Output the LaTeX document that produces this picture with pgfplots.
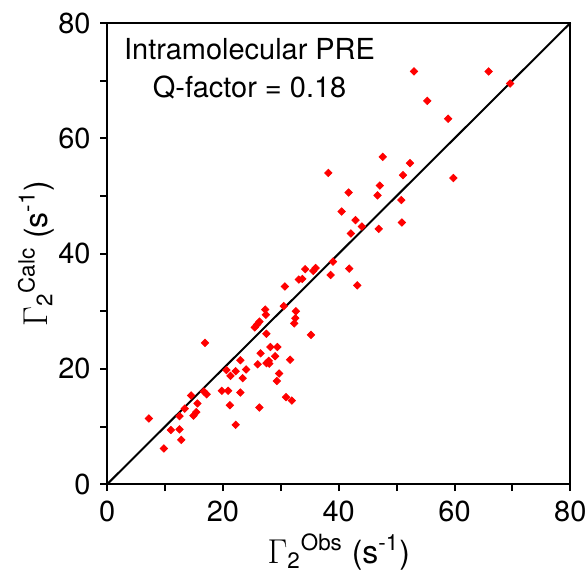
\documentclass[border=0pt]{standalone}
\usepackage{fontspec}
\setmainfont{TeX Gyre Heros}
\usepackage{pgfplots}
\pgfplotsset{compat=1.18}

\begin{document}
\fontsize{14}{17}\selectfont
\begin{tikzpicture}
\begin{axis}[
  scale only axis, width=232pt, height=231pt,
  xmin=0, xmax=80, ymin=0, ymax=80,
  axis line style={line width=1pt},
  xtick={0,20,...,80}, ytick={0,20,...,80},
  minor xtick={10,30,50,70}, minor ytick={10,30,50,70},
  tick align=outside, tick pos=left,
  major tick length=3.5pt, minor tick length=3.5pt,
  every tick/.style={line width=1pt, black},
  /pgf/number format/assume math mode=true,
  ticklabel style={font=\fontsize{14.5}{17}\selectfont},
  xticklabel style={inner xsep=0.8pt},
  yticklabel style={inner ysep=6.3pt},
  label style={font=\fontsize{16}{19}\selectfont},
  xlabel style={inner ysep=3.3pt, yshift=2pt},
  ylabel style={inner ysep=9pt, yshift=-11.7pt},
  xlabel={$\Gamma$\textsubscript{2}\textsuperscript{Obs} (s\textsuperscript{-1})},
  ylabel={$\Gamma$\textsubscript{2}\textsuperscript{Calc} (s\textsuperscript{-1})},
  clip=false,
]
\addplot[black, line width=1pt] coordinates {(0,0) (80,80)};
\addplot[only marks, mark=square*, mark size=1.3pt, color=red,
  mark options={rotate=45, fill=red, draw=red}] coordinates {
(7.2,11.4) (9.8,6.2) (11.0,9.4) (12.5,9.5) (12.8,7.7) (12.5,11.8)
(13.4,13.1) (14.5,15.4) (14.9,11.9) (15.4,12.5) (15.6,14.0) (16.9,24.5)
(16.7,16.1) (17.2,15.6) (19.8,16.2) (20.9,16.2) (20.6,19.8) (21.3,18.8)
(22.2,19.6) (21.2,13.7) (22.2,10.3) (23.0,21.5) (24.0,19.9) (23.4,18.4)
(23.0,15.9) (26.0,20.8) (26.5,22.7) (26.3,13.3) (27.5,21.0) (27.9,21.4)
(28.0,20.9) (28.2,23.8) (27.5,26.1) (29.4,23.8) (29.0,22.2) (29.7,19.2)
(29.3,17.9) (31.6,21.6) (30.9,15.1) (31.9,14.5) (35.2,25.9) (25.5,27.2)
(25.9,27.7) (26.3,28.2) (27.3,30.3) (27.4,29.4) (30.5,30.9) (30.7,34.3)
(32.6,30.0) (32.5,28.8) (32.3,27.9) (33.1,35.5) (33.7,35.6) (34.2,37.3)
(35.6,37.0) (36.0,37.5) (38.6,36.3) (39.0,38.6) (41.8,37.4) (43.2,34.5)
(38.2,54.0) (47.6,56.8) (52.3,55.7) (51.1,53.6) (59.8,53.1) (47.1,51.8)
(46.7,50.1) (41.7,50.6) (40.5,47.3) (50.8,49.3) (42.9,45.8) (44.0,44.7)
(42.1,43.5) (46.9,44.3) (50.9,45.4) (53.0,71.6) (65.9,71.6) (69.6,69.5)
(55.3,66.5) (58.9,63.4)
};
\node[align=center, font=\fontsize{14.5}{19}\selectfont] at (axis cs:24.6,72) {Intramolecular PRE\\Q-factor = 0.18};
\end{axis}
\end{tikzpicture}
\end{document}
